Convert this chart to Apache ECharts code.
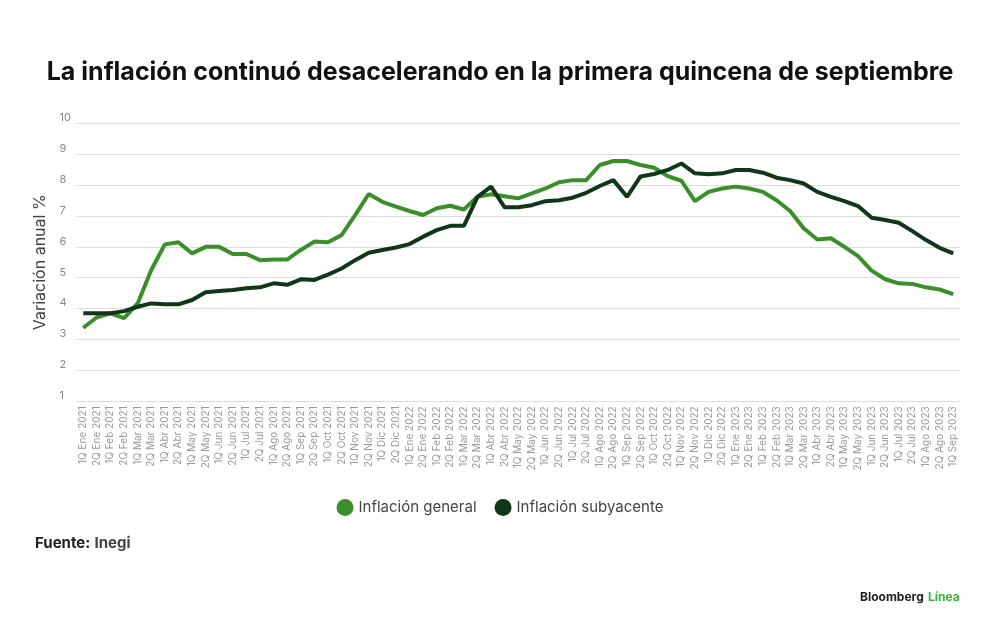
<!DOCTYPE html>
<html>
<head>
<meta charset="utf-8">
<script src="https://cdn.jsdelivr.net/npm/echarts@6/dist/echarts.min.js"></script>
<style>
  html, body { margin: 0; padding: 0; background: #fff; }
  #graph { width: 1000px; height: 627px; }
</style>
</head>
<body>
<div id="graph"></div>
<script>
// quincenas: 1Q Ene 2021 .. 1Q Sep 2023
const months = ['Ene', 'Feb', 'Mar', 'Abr', 'May', 'Jun', 'Jul', 'Ago', 'Sep', 'Oct', 'Nov', 'Dic'];
const categories = [];
[2021, 2022, 2023].forEach((year) => {
  months.forEach((m) => {
    ['1Q', '2Q'].forEach((q) => categories.push(q + ' ' + m + ' ' + year));
  });
});
categories.length = 65;

const general = [
  3.38, 3.72, 3.85, 3.69, 4.17, 5.25, 6.08, 6.15, 5.79, 6.0,
  6.0, 5.77, 5.77, 5.57, 5.59, 5.59, 5.9, 6.17, 6.15, 6.38,
  7.03, 7.71, 7.46, 7.3, 7.16, 7.03, 7.25, 7.33, 7.21, 7.62,
  7.7, 7.64, 7.57, 7.73, 7.89, 8.09, 8.16, 8.16, 8.65, 8.78,
  8.78, 8.65, 8.56, 8.29, 8.14, 7.48, 7.78, 7.89, 7.95, 7.89,
  7.78, 7.51, 7.16, 6.6, 6.24, 6.28, 6.0, 5.7, 5.23, 4.95,
  4.82, 4.8, 4.69, 4.62, 4.47
];

const subyacente = [
  3.85, 3.85, 3.85, 3.92, 4.06, 4.17, 4.14, 4.14, 4.28, 4.53,
  4.57, 4.6, 4.66, 4.69, 4.82, 4.77, 4.95, 4.93, 5.1, 5.3,
  5.57, 5.81, 5.9, 5.98, 6.09, 6.33, 6.54, 6.68, 6.68, 7.62,
  7.95, 7.28, 7.28, 7.35, 7.48, 7.51, 7.59, 7.75, 7.97, 8.16,
  7.62, 8.28, 8.36, 8.49, 8.7, 8.38, 8.35, 8.38, 8.49, 8.49,
  8.4, 8.24, 8.16, 8.05, 7.78, 7.62, 7.48, 7.32, 6.94, 6.87,
  6.78, 6.51, 6.22, 5.97, 5.79
];

const yTicks = [1, 2, 3, 4, 5, 6, 7, 8, 9, 10];

var myChart = echarts.init(document.getElementById('graph'));

const option = {
  backgroundColor: '#fff',
  animation: false,
  textStyle: { fontFamily: 'Inter, "Liberation Sans", sans-serif' },
  title: [
    {
      text: 'La inflación continuó desacelerando en la primera quincena de septiembre',
      left: 'center',
      top: 55,
      textStyle: { fontSize: 25, fontWeight: 700, color: '#111', fontFamily: 'Inter, sans-serif' }
    },
    {
      text: '{b|Fuente:} {r|Inegi}',
      left: 30,
      top: 529,
      textStyle: {
        rich: {
          b: { fontSize: 15, fontWeight: 700, color: '#222', fontFamily: 'Inter, sans-serif' },
          r: { fontSize: 15, color: '#444', fontFamily: 'Inter, sans-serif' }
        }
      }
    },
    {
      text: '{b|Bloomberg} {g|Línea}',
      left: 855,
      top: 583,
      textStyle: {
        rich: {
          b: { fontSize: 12, fontWeight: 700, color: '#222', fontFamily: 'Inter, sans-serif' },
          g: { fontSize: 12, fontWeight: 700, color: '#3cb043', fontFamily: 'Inter, sans-serif' }
        }
      }
    }
  ],
  legend: {
    top: 494,
    left: 'center',
    icon: 'circle',
    itemWidth: 17,
    itemHeight: 17,
    itemGap: 18,
    textStyle: { fontSize: 15, color: '#444' },
    data: ['Inflación general', 'Inflación subyacente']
  },
  grid: { left: 76.5, right: 40, top: 123.3, bottom: 225.7, containLabel: false },
  xAxis: {
    type: 'category',
    data: categories,
    boundaryGap: true,
    axisLine: { show: false },
    axisTick: { show: false },
    axisLabel: { interval: 0, rotate: 90, fontSize: 10, color: '#999', margin: 5 }
  },
  yAxis: {
    type: 'value',
    min: yTicks[0],
    max: yTicks[yTicks.length - 1],
    interval: 1,
    name: 'Variación anual %',
    nameLocation: 'middle',
    nameGap: 17,
    nameTextStyle: { fontSize: 16, color: '#444' },
    axisLabel: { fontSize: 11, color: '#888', align: 'left', margin: 17, verticalAlign: 'bottom' },
    splitLine: { lineStyle: { color: '#ddd', width: 1 } }
  },
  series: [
    {
      name: 'Inflación general',
      type: 'line',
      data: general,
      showSymbol: false,
      symbol: 'circle',
      itemStyle: { color: '#3a8f2a' },
      lineStyle: { color: '#3a8f2a', width: 4 }
    },
    {
      name: 'Inflación subyacente',
      type: 'line',
      data: subyacente,
      showSymbol: false,
      symbol: 'circle',
      itemStyle: { color: '#11361a' },
      lineStyle: { color: '#11361a', width: 4 }
    }
  ]
};

myChart.setOption(option);
</script>
</body>
</html>
